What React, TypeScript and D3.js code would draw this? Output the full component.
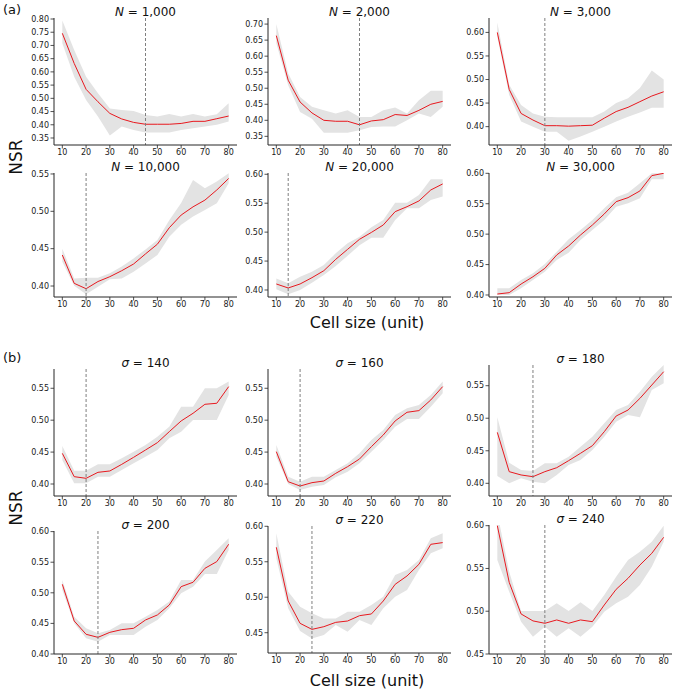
import React from 'react';
import * as d3 from 'd3';

// ---------- data ----------
const cellSizes = [10, 15, 20, 25, 30, 35, 40, 45, 50, 55, 60, 65, 70, 75, 80];
const xTickValues = [10, 20, 30, 40, 50, 60, 70, 80];

const titleSymbols = ['N', 'N', 'N', 'N', 'N', 'N', 'σ', 'σ', 'σ', 'σ', 'σ', 'σ'];
const titleValues = ['1,000', '2,000', '3,000', '10,000', '20,000', '30,000', '140', '160', '180', '200', '220', '240'];
const optimalSizes: (number | null)[] = [45, 45, 30, 20, 15, null, 20, 20, 25, 25, 25, 30];

const meanN1000 = [0.746, 0.632, 0.534, 0.487, 0.443, 0.422, 0.409, 0.402, 0.402, 0.402, 0.405, 0.413, 0.413, 0.423, 0.433];
const highN1000 = [0.794, 0.683, 0.582, 0.519, 0.462, 0.456, 0.452, 0.437, 0.431, 0.441, 0.431, 0.441, 0.431, 0.44, 0.481];
const lowN1000 = [0.708, 0.582, 0.494, 0.431, 0.359, 0.393, 0.38, 0.371, 0.371, 0.371, 0.38, 0.387, 0.393, 0.4, 0.412];

const meanN2000 = [0.664, 0.525, 0.457, 0.423, 0.4, 0.397, 0.397, 0.386, 0.398, 0.402, 0.418, 0.415, 0.431, 0.45, 0.459];
const highN2000 = [0.7, 0.546, 0.473, 0.442, 0.431, 0.421, 0.431, 0.41, 0.41, 0.431, 0.44, 0.421, 0.4625, 0.492, 0.492];
const lowN2000 = [0.64, 0.509, 0.426, 0.405, 0.361, 0.361, 0.361, 0.369, 0.379, 0.381, 0.381, 0.4, 0.421, 0.41, 0.442];

const meanN3000 = [0.6, 0.479, 0.428, 0.414, 0.402, 0.402, 0.401, 0.402, 0.403, 0.418, 0.432, 0.441, 0.453, 0.465, 0.474];
const highN3000 = [0.621, 0.489, 0.446, 0.428, 0.421, 0.42, 0.42, 0.42, 0.42, 0.432, 0.45, 0.46, 0.482, 0.519, 0.5];
const lowN3000 = [0.591, 0.467, 0.411, 0.4, 0.389, 0.389, 0.37, 0.379, 0.389, 0.4, 0.411, 0.421, 0.43, 0.44, 0.44];

const meanN10000 = [0.4415, 0.4036, 0.3964, 0.406, 0.4125, 0.4205, 0.4295, 0.443, 0.456, 0.478, 0.495, 0.506, 0.515, 0.5286, 0.544];
const highN10000 = [0.45, 0.41, 0.411, 0.411, 0.417, 0.426, 0.437, 0.449, 0.4616, 0.488, 0.511, 0.542, 0.531, 0.54, 0.551];
const lowN10000 = [0.4326, 0.4004, 0.389, 0.399, 0.409, 0.41, 0.419, 0.43, 0.4415, 0.466, 0.482, 0.4929, 0.5018, 0.5107, 0.5375];

const meanN20000 = [0.4104, 0.4035, 0.4104, 0.4213, 0.4334, 0.453, 0.4703, 0.4876, 0.4995, 0.5124, 0.5354, 0.544, 0.5539, 0.5729, 0.5833];
const highN20000 = [0.42, 0.4115, 0.423, 0.4317, 0.4432, 0.4634, 0.4807, 0.4922, 0.5084, 0.521, 0.551, 0.551, 0.5643, 0.5914, 0.5914];
const lowN20000 = [0.4012, 0.3925, 0.4, 0.4127, 0.426, 0.4415, 0.4594, 0.4772, 0.4905, 0.4905, 0.521, 0.5412, 0.5412, 0.5556, 0.5614];

const meanN30000 = [0.4016, 0.4038, 0.418, 0.43, 0.4438, 0.4658, 0.4805, 0.4986, 0.515, 0.5332, 0.5534, 0.56, 0.571, 0.5962, 0.6];
const highN30000 = [0.411, 0.411, 0.4247, 0.4356, 0.451, 0.4712, 0.4915, 0.5068, 0.5233, 0.5425, 0.5605, 0.5682, 0.5836, 0.6, 0.6];
const lowN30000 = [0.4, 0.4, 0.411, 0.4247, 0.4384, 0.4575, 0.4696, 0.4904, 0.5068, 0.5233, 0.5452, 0.5507, 0.5589, 0.5901, 0.5901];

const meanS140 = [0.448, 0.4115, 0.4089, 0.4183, 0.4204, 0.4308, 0.4418, 0.4533, 0.4648, 0.482, 0.4988, 0.5108, 0.5249, 0.5265, 0.5526];
const highS140 = [0.4596, 0.4209, 0.4209, 0.4308, 0.4308, 0.4402, 0.4507, 0.4611, 0.4742, 0.4899, 0.5212, 0.5212, 0.55, 0.55, 0.5605];
const lowS140 = [0.4376, 0.401, 0.401, 0.4115, 0.4115, 0.4219, 0.4324, 0.4428, 0.4533, 0.4716, 0.482, 0.5003, 0.5003, 0.5003, 0.5395];

const meanS160 = [0.4507, 0.4036, 0.3968, 0.4021, 0.4047, 0.4167, 0.4272, 0.4392, 0.4585, 0.4768, 0.4988, 0.5124, 0.515, 0.5317, 0.5526];
const highS160 = [0.4611, 0.4115, 0.4036, 0.4115, 0.4115, 0.4219, 0.4324, 0.4481, 0.469, 0.4847, 0.5082, 0.5186, 0.5239, 0.5395, 0.5605];
const lowS160 = [0.4428, 0.4, 0.3906, 0.3958, 0.3984, 0.4104, 0.4193, 0.4324, 0.4507, 0.469, 0.4899, 0.5019, 0.5019, 0.5212, 0.5422];

const meanS180 = [0.4783, 0.4179, 0.4128, 0.4102, 0.4179, 0.424, 0.4348, 0.4461, 0.4578, 0.4793, 0.5034, 0.5126, 0.5305, 0.551, 0.5715];
const highS180 = [0.5014, 0.4317, 0.4205, 0.4189, 0.4307, 0.4307, 0.4409, 0.4563, 0.4717, 0.4921, 0.5126, 0.5203, 0.5408, 0.5638, 0.5817];
const lowS180 = [0.4114, 0.4, 0.4077, 0.4025, 0.4, 0.4128, 0.4281, 0.4358, 0.4512, 0.4717, 0.4947, 0.5049, 0.5014, 0.5433, 0.5536];

const meanS200 = [0.5139, 0.454, 0.4322, 0.4272, 0.4354, 0.4398, 0.442, 0.4556, 0.4638, 0.4801, 0.5101, 0.5172, 0.54, 0.551, 0.5793];
const highS200 = [0.521, 0.461, 0.442, 0.4338, 0.4392, 0.4501, 0.4501, 0.461, 0.472, 0.4856, 0.521, 0.521, 0.551, 0.57, 0.5891];
const lowS200 = [0.5046, 0.4501, 0.4256, 0.4202, 0.4311, 0.4311, 0.4311, 0.4447, 0.4556, 0.4747, 0.4992, 0.5101, 0.5308, 0.5308, 0.57];

const meanS220 = [0.5704, 0.4947, 0.4632, 0.4547, 0.4585, 0.4646, 0.4665, 0.474, 0.4764, 0.4947, 0.5182, 0.53, 0.5464, 0.5746, 0.577];
const highS220 = [0.5901, 0.5079, 0.4867, 0.4774, 0.4702, 0.4702, 0.4796, 0.4796, 0.489, 0.5008, 0.5314, 0.5384, 0.5525, 0.5831, 0.5901];
const lowS220 = [0.5549, 0.4843, 0.4524, 0.442, 0.4467, 0.4608, 0.4514, 0.4679, 0.4608, 0.4843, 0.5008, 0.5102, 0.5384, 0.5619, 0.569];

const meanS240 = [0.6, 0.5338, 0.4968, 0.4887, 0.4859, 0.4898, 0.4859, 0.4898, 0.4878, 0.5073, 0.5256, 0.5385, 0.554, 0.5677, 0.5864];
const highS240 = [0.615, 0.5462, 0.5003, 0.5003, 0.5003, 0.5092, 0.5003, 0.5104, 0.5003, 0.519, 0.5404, 0.5599, 0.5696, 0.5813, 0.6];
const lowS240 = [0.5599, 0.5229, 0.4878, 0.4703, 0.482, 0.4703, 0.48, 0.4703, 0.482, 0.4995, 0.5092, 0.517, 0.5307, 0.5521, 0.5813];

const meanSeries = [meanN1000, meanN2000, meanN3000, meanN10000, meanN20000, meanN30000, meanS140, meanS160, meanS180, meanS200, meanS220, meanS240];
const highSeries = [highN1000, highN2000, highN3000, highN10000, highN20000, highN30000, highS140, highS160, highS180, highS200, highS220, highS240];
const lowSeries = [lowN1000, lowN2000, lowN3000, lowN10000, lowN20000, lowN30000, lowS140, lowS160, lowS180, lowS200, lowS220, lowS240];

const yTickLists = [
  [0.35, 0.4, 0.45, 0.5, 0.55, 0.6, 0.65, 0.7, 0.75, 0.8],
  [0.35, 0.4, 0.45, 0.5, 0.55, 0.6, 0.65, 0.7],
  [0.4, 0.45, 0.5, 0.55, 0.6],
  [0.4, 0.45, 0.5, 0.55],
  [0.4, 0.45, 0.5, 0.55, 0.6],
  [0.4, 0.45, 0.5, 0.55, 0.6],
  [0.4, 0.45, 0.5, 0.55],
  [0.4, 0.45, 0.5, 0.55],
  [0.4, 0.45, 0.5, 0.55],
  [0.4, 0.45, 0.5, 0.55, 0.6],
  [0.45, 0.5, 0.55, 0.6],
  [0.45, 0.5, 0.55, 0.6],
];

const yDomains: [number, number][] = [
  [0.3235, 0.8038], [0.323, 0.719], [0.361, 0.6306],
  [0.3853, 0.5513], [0.3879, 0.6022], [0.3967, 0.6005],
  [0.3812, 0.5802], [0.3812, 0.5802], [0.3805, 0.5818],
  [0.4, 0.601], [0.4214, 0.6004], [0.45, 0.6008],
];

// ---------- layout ----------
const W = 675;
const H = 692;
const PANEL_W = 183;
const X_DOMAIN: [number, number] = [6.5, 83.5];
const FRAMES = [
  { left: 54, top: 18, bottom: 145 }, { left: 268, top: 18, bottom: 145 }, { left: 489, top: 18, bottom: 145 },
  { left: 54, top: 173, bottom: 297 }, { left: 268, top: 173, bottom: 297 }, { left: 489, top: 173, bottom: 297 },
  { left: 54, top: 369, bottom: 496 }, { left: 268, top: 369, bottom: 496 }, { left: 489, top: 365, bottom: 496 },
  { left: 54, top: 531, bottom: 654 }, { left: 268, top: 526, bottom: 653 }, { left: 489, top: 525, bottom: 654 },
];
const FONT = 'DejaVu Sans, sans-serif';
const AXIS_COLOR = '#262626';

function Panel({ i }: { i: number }) {
  const f = FRAMES[i];
  const x = d3.scaleLinear().domain(X_DOMAIN).range([f.left, f.left + PANEL_W]);
  const y = d3.scaleLinear().domain(yDomains[i]).range([f.bottom, f.top]);
  const mean = meanSeries[i];
  const lo = lowSeries[i];
  const hi = highSeries[i];
  const area = d3.area<number>()
    .x((_, k) => x(cellSizes[k]))
    .y0((_, k) => y(lo[k]))
    .y1((_, k) => y(hi[k]));
  const line = d3.line<number>()
    .x((_, k) => x(cellSizes[k]))
    .y((d) => y(d));
  const clipId = `clip-${i}`;
  const opt = optimalSizes[i];
  const fmt = d3.format('.2f');
  return (
    <g>
      <defs>
        <clipPath id={clipId}>
          <rect x={f.left} y={f.top} width={PANEL_W} height={f.bottom - f.top} />
        </clipPath>
      </defs>
      <g clipPath={`url(#${clipId})`}>
        <path d={area(mean) || ''} fill="#e3e3e3" stroke="none" />
        <path d={line(mean) || ''} fill="none" stroke="#e8191f" strokeWidth={1} />
        {opt !== null && (
          <line x1={x(opt)} x2={x(opt)} y1={f.top} y2={f.bottom} stroke="#7f7f7f" strokeWidth={1} strokeDasharray="3,2" />
        )}
      </g>
      <line x1={f.left} x2={f.left} y1={f.top} y2={f.bottom} stroke={AXIS_COLOR} strokeWidth={1} />
      <line x1={f.left} x2={f.left + PANEL_W} y1={f.bottom} y2={f.bottom} stroke={AXIS_COLOR} strokeWidth={1} />
      {yTickLists[i].map((t) => (
        <g key={`y${t}`}>
          <line x1={f.left - 3.5} x2={f.left} y1={y(t)} y2={y(t)} stroke={AXIS_COLOR} strokeWidth={0.8} />
          <text x={f.left - 5} y={y(t)} dy="0.35em" textAnchor="end" fontSize={8} fontFamily={FONT} fill="#1a1a1a">
            {fmt(t)}
          </text>
        </g>
      ))}
      {xTickValues.map((t) => (
        <g key={`x${t}`}>
          <line x1={x(t)} x2={x(t)} y1={f.bottom} y2={f.bottom + 3.5} stroke={AXIS_COLOR} strokeWidth={0.8} />
          <text x={x(t)} y={f.bottom + 10} textAnchor="middle" fontSize={8} fontFamily={FONT} fill="#1a1a1a">
            {t}
          </text>
        </g>
      ))}
      <text x={f.left + PANEL_W / 2} y={f.top - 2.5} textAnchor="middle" fontSize={12} fontFamily={FONT} fill="#111">
        <tspan fontStyle="italic">{titleSymbols[i]}</tspan>
        <tspan>{` = ${titleValues[i]}`}</tspan>
      </text>
    </g>
  );
}

export default function App() {
  return (
    <svg
      width={W}
      height={H}
      viewBox={`0 0 ${W} ${H}`}
      style={{ display: 'block', position: 'absolute', left: 0, top: 0, background: '#fff' }}
    >
      <rect x={0} y={0} width={W} height={H} fill="#fff" />
      {FRAMES.map((_, i) => (
        <Panel key={i} i={i} />
      ))}
      <text x={3} y={14} fontSize={13} fontFamily={FONT} fill="#111">(a)</text>
      <text x={3} y={362} fontSize={13} fontFamily={FONT} fill="#111">(b)</text>
      <text transform="translate(22,157) rotate(-90)" textAnchor="middle" fontSize={17} fontFamily={FONT} fill="#111">NSR</text>
      <text transform="translate(22,508) rotate(-90)" textAnchor="middle" fontSize={17} fontFamily={FONT} fill="#111">NSR</text>
      <text x={367} y={328} textAnchor="middle" fontSize={16} fontFamily={FONT} fill="#111">Cell size (unit)</text>
      <text x={367} y={686} textAnchor="middle" fontSize={16} fontFamily={FONT} fill="#111">Cell size (unit)</text>
    </svg>
  );
}
